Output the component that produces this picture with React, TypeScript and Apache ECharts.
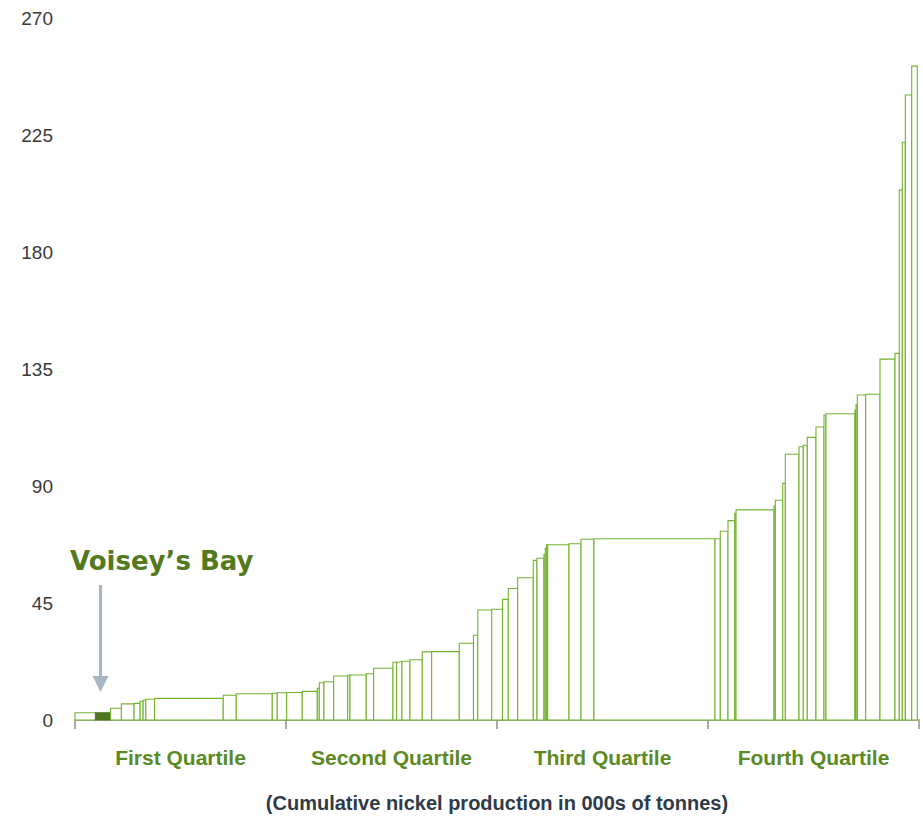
import React, { useEffect, useRef } from "react";
import * as echarts from "echarts";

// Production of each mine (000s of tonnes), in cost order
const production = [
  34, 25, 18, 21, 10, 5, 4.5, 14.4, 114, 21.6,
  59.7, 8.3, 15.6, 25.9, 24.9, 3.3, 7.8, 16.1, 23.2, 3.8,
  27, 12.3, 32, 6.1, 8.8, 13.3, 20.4, 15.6, 45.8, 23.6,
  7.1, 23.1, 17.9, 9.6, 15.6, 25.9, 6.1, 11.6, 2.2, 2.3,
  1.7, 35.3, 19.9, 21.6, 200.7, 8.8, 12.8, 11.1, 2.2, 63,
  2.2, 12.3, 4.3, 22.7, 7.1, 6.6, 14.4, 13.3, 3.3, 48.1,
  1.7, 2.2, 13.9, 23.7, 24.9, 7.1, 5, 5, 10.6, 9.3,
];
// Cost of each mine
const cost = [
  2.8, 2.8, 4.5, 6.2, 6.4, 7.2, 7.6, 8.0, 8.3, 9.5,
  10.1, 10.3, 10.5, 10.6, 11.0, 12.2, 14.3, 14.7, 16.9, 17.2,
  17.3, 17.8, 19.9, 22.2, 22.3, 22.6, 23.2, 26.2, 26.3, 29.5,
  32.6, 42.3, 42.6, 46.4, 50.6, 54.7, 61.4, 62.2, 63.7, 66.0,
  67.4, 67.4, 67.8, 69.5, 69.7, 69.7, 72.6, 76.7, 79.5, 80.8,
  82.3, 84.5, 91.0, 102.2, 105.1, 105.7, 108.7, 112.7, 117.3, 117.8,
  119.2, 121.2, 125.0, 125.3, 138.8, 141.0, 203.8, 222.2, 240.4, 251.5,
];
const highlightIndex = 1; // Voisey's Bay
const highlightLabel = "Voisey\u2019s Bay";
const quartiles = ["First Quartile", "Second Quartile", "Third Quartile", "Fourth Quartile"];
const totalProduction = 1400;
const yMax = 270;
const yInterval = 45;
const xTitle = "(Cumulative nickel production in 000s of tonnes)";

export default function App() {
  const ref = useRef<HTMLDivElement>(null);
  useEffect(() => {
    if (!ref.current) return;
    const chart = echarts.init(ref.current, undefined, { renderer: "svg" });
    let cum = 0;
    const data = production.map((p, i) => {
      const start = cum;
      cum += p;
      return [start, cum, cost[i], i === highlightIndex ? 1 : 0];
    });
    const option: any = {
      animation: false,
      grid: { left: 75, right: 4, top: 18, bottom: 99, containLabel: false },
      xAxis: [
        {
          type: "category",
          data: quartiles,
          boundaryGap: true,
          position: "bottom",
          axisLine: { show: true, lineStyle: { color: "#ababab", width: 2 } },
          axisTick: { show: true, length: 9, lineStyle: { color: "#ababab", width: 2 } },
          axisLabel: {
            color: "#5b8a25",
            fontWeight: "bold",
            fontSize: 21,
            fontFamily: "Liberation Sans, Arial, sans-serif",
            margin: 27,
          },
          splitLine: { show: false },
          name: xTitle,
          nameLocation: "middle",
          nameGap: 73,
          nameTextStyle: {
            color: "#2f3a48",
            fontWeight: "bold",
            fontSize: 20,
            fontFamily: "Liberation Sans, Arial, sans-serif",
          },
        },
        {
          type: "value",
          min: 0,
          max: totalProduction,
          show: false,
          position: "bottom",
        },
      ],
      yAxis: {
        type: "value",
        min: 0,
        max: yMax,
        interval: yInterval,
        axisLine: { show: false },
        axisTick: { show: false },
        splitLine: { show: false },
        axisLabel: {
          color: "#3a3a3a",
          fontSize: 19,
          fontFamily: "Liberation Sans, Arial, sans-serif",
          margin: 22,
        },
      },
      series: [
        {
          type: "custom",
          xAxisIndex: 1,
          yAxisIndex: 0,
          encode: { x: [0, 1], y: 2 },
          data,
          renderItem: (params: any, api: any) => {
            const x0 = api.value(0);
            const x1 = api.value(1);
            const y = api.value(2);
            const hl = api.value(3) === 1;
            const p0 = api.coord([x0, 0]);
            const p1 = api.coord([x1, y]);
            return {
              type: "rect",
              shape: { x: p0[0], y: p1[1], width: p1[0] - p0[0], height: p0[1] - p1[1] },
              style: {
                fill: hl ? "#4e7720" : "#ffffff",
                stroke: hl ? "#4e7720" : "#74b32e",
                lineWidth: 1.1,
              },
            };
          },
        },
      ],
      graphic: [
        {
          type: "text",
          left: 70,
          top: 548,
          style: {
            text: highlightLabel,
            fill: "#55791f",
            font: "bold 26px 'DejaVu Sans', sans-serif",
          },
        },
        {
          type: "line",
          shape: { x1: 100.5, y1: 585, x2: 100.5, y2: 678 },
          style: { stroke: "#a7b6c4", lineWidth: 3 },
        },
        {
          type: "polygon",
          shape: { points: [[92.5, 676], [108.5, 676], [100.5, 692]] },
          style: { fill: "#a7b6c4" },
        },
      ],
    };
    chart.setOption(option);
    return () => chart.dispose();
  }, []);
  return (
    <div
      ref={ref}
      style={{ position: "fixed", left: 0, top: 0, width: 923, height: 819, background: "#fff" }}
    />
  );
}
